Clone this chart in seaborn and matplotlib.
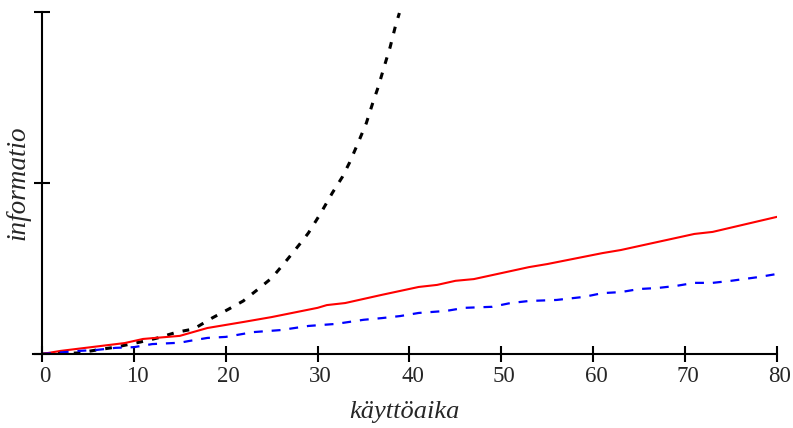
import matplotlib
matplotlib.use("Agg")
import matplotlib.pyplot as plt
import matplotlib.transforms as mtransforms
import seaborn as sns
import pandas as pd

# Information accumulated over operating time, three growth models
x_red = [0, 2, 9, 11, 15, 18, 22, 25, 30, 31, 33, 37, 41, 43, 45, 47, 53, 55, 61, 63, 71, 73, 80]
y_red = [0, 0.09, 0.32, 0.44, 0.53, 0.76, 0.94, 1.08, 1.35, 1.43, 1.49, 1.73, 1.96, 2.02,
         2.14, 2.19, 2.54, 2.63, 2.95, 3.04, 3.51, 3.57, 4.01]

x_blue = [0, 4, 6, 8, 10, 12, 15, 16, 18, 20, 23, 26, 29, 32, 35, 37, 39, 41, 44, 46, 49,
          51, 53, 56, 59, 61, 63, 65, 67, 69, 71, 73, 75, 78, 80]
y_blue = [0, 0.09, 0.12, 0.18, 0.20, 0.29, 0.33, 0.38, 0.47, 0.50, 0.64, 0.70, 0.82, 0.88,
          1.0, 1.05, 1.11, 1.20, 1.26, 1.35, 1.38, 1.49, 1.55, 1.58, 1.67, 1.78, 1.81, 1.90,
          1.93, 1.99, 2.08, 2.08, 2.14, 2.25, 2.34]

x_black = [0, 4, 6, 8, 10.7, 12.6, 14.7, 16.5, 18.5, 20.3, 21.9, 23.4, 25, 26.2, 27.3,
           28.4, 29, 30.3, 31.6, 32.7, 33.5, 34.4, 35.3, 36, 36.6, 37.3, 37.9, 38.5, 38.9]
y_black = [0, 0.03, 0.12, 0.20, 0.35, 0.47, 0.64, 0.73, 1.05, 1.31, 1.55, 1.87, 2.22, 2.6,
           2.96, 3.33, 3.54, 4.1, 4.71, 5.18, 5.61, 6.17, 6.75, 7.34, 7.81, 8.45, 8.98,
           9.62, 9.97]

x_ticks = [0, 10, 20, 30, 40, 50, 60, 70, 80]
y_ticks = [0, 5, 10]

sns.set_style("white")
plt.rcParams["font.family"] = ["Liberation Serif", "DejaVu Serif"]

fig = plt.figure(figsize=(7.93, 4.28), dpi=100)
ax = fig.add_axes([0.0414, 0.1729, 0.9384, 0.7991])

df_black = pd.DataFrame({"t": x_black, "v": y_black})
df_red = pd.DataFrame({"t": x_red, "v": y_red})
df_blue = pd.DataFrame({"t": x_blue, "v": y_blue})

sns.lineplot(data=df_black, x="t", y="v", ax=ax, color="black", linewidth=2.2,
             linestyle=(0, (2.2, 3)), sort=False)
sns.lineplot(data=df_red, x="t", y="v", ax=ax, color="#ff0000", linewidth=1.5, sort=False)
sns.lineplot(data=df_blue, x="t", y="v", ax=ax, color="#0000ff", linewidth=1.6,
             linestyle=(0, (4, 4)), sort=False)

ax.set_xlim(-1, 80)
ax.set_ylim(0, 10)
ax.set_xticks(x_ticks)
ax.set_xticklabels([str(t) for t in x_ticks], fontsize=16.5)
ax.set_yticks(y_ticks)
ax.set_yticklabels([])

for side in ("top", "right"):
    ax.spines[side].set_visible(False)
ax.spines["left"].set_position(("data", 0))
for side in ("left", "bottom"):
    ax.spines[side].set_linewidth(1.5)
    ax.spines[side].set_color("black")

ax.tick_params(axis="both", direction="inout", length=12, width=1.5, color="black",
               bottom=True, left=True)
ax.tick_params(axis="x", pad=3)

# nudge the tick numbers slightly to the right of their ticks
shift = mtransforms.ScaledTranslation(3 / 100, 0, fig.dpi_scale_trans)
for lab in ax.get_xticklabels():
    lab.set_transform(lab.get_transform() + shift)

ax.set_xlabel("käyttöaika", fontsize=19, style="italic", labelpad=10)
ax.set_ylabel("informatio", fontsize=19.5, style="italic")
ax.yaxis.set_label_coords(-0.003, 0.5)

fig.savefig("out.png", dpi=100)
